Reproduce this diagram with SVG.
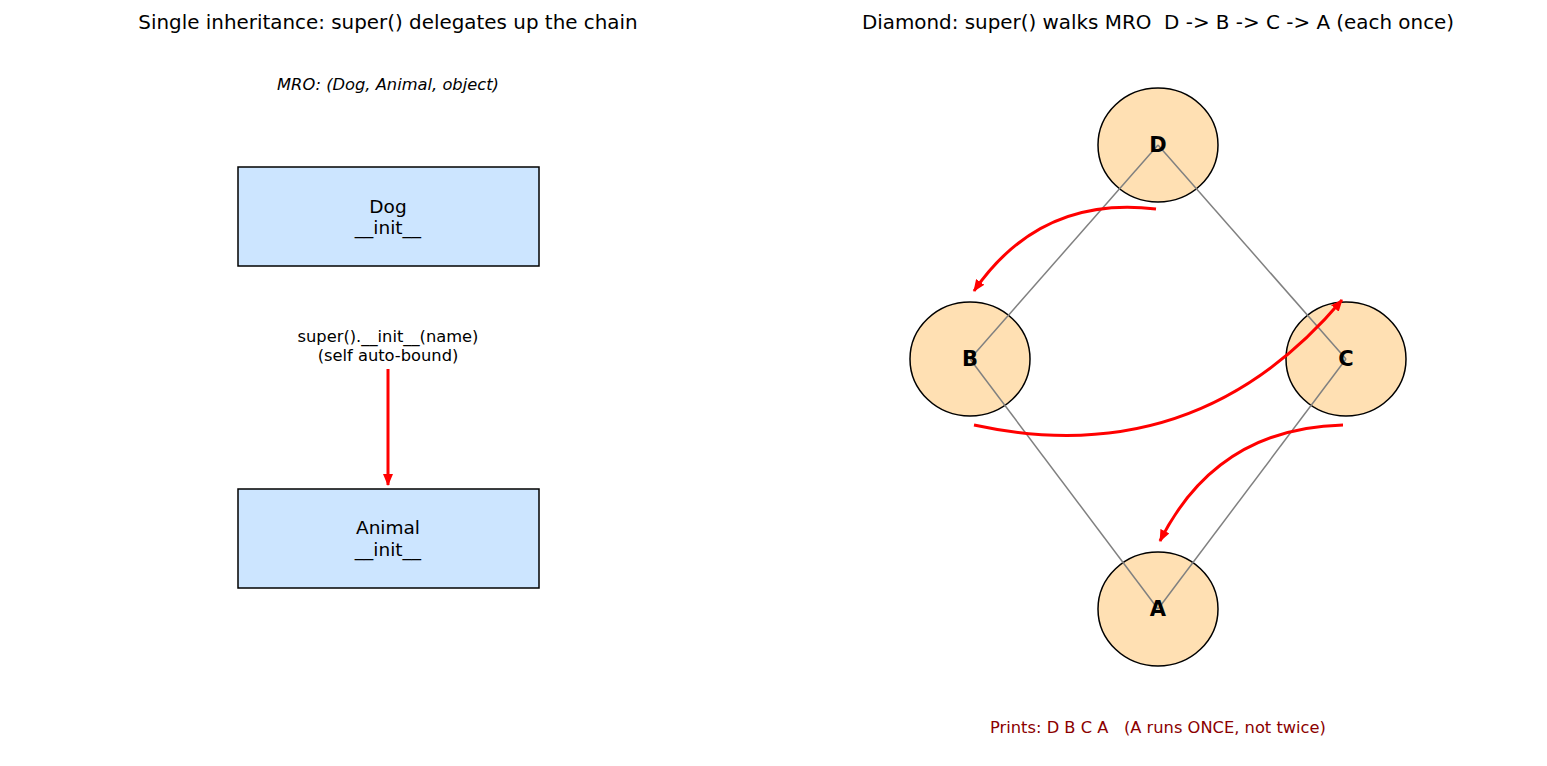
<svg xmlns="http://www.w3.org/2000/svg" width="1547" height="766" viewBox="0 0 1547 766">
<style>
text{font-family:"DejaVu Sans","Liberation Sans",sans-serif;fill:#000}
.title{font-size:19.9px;text-anchor:middle}
.mid{text-anchor:middle}
.small{font-size:16.3px}
.boxt{font-size:18.5px}
.box{fill:#cce5ff;stroke:#000;stroke-width:1.5}
.node{fill:#ffe0b3;stroke:#000;stroke-width:1.5}
.lbl{font-size:21px;font-weight:bold;text-anchor:middle}
.edge{stroke:#808080;stroke-width:1.5;fill:none}
.red{stroke:#ff0000;stroke-width:3;fill:none;marker-end:url(#ah)}
</style>
<defs>
<marker id="ah" markerWidth="12" markerHeight="10" refX="11" refY="5" orient="auto" markerUnits="userSpaceOnUse">
<path d="M0,0 L12,5 L0,10 Z" fill="#ff0000"/>
</marker>
</defs>
<rect width="1547" height="766" fill="#fff"/>
<text class="title" x="388" y="29">Single inheritance: super() delegates up the chain</text>
<text class="title" x="1158" y="29" xml:space="preserve">Diamond: super() walks MRO  D -&gt; B -&gt; C -&gt; A (each once)</text>
<text class="mid small" x="388" y="90" style="font-style:italic">MRO: (Dog, Animal, object)</text>

<g id="dog">
<rect class="box" x="238" y="167" width="301" height="99"/>
<text class="mid boxt" x="388" y="213">Dog</text>
<text class="mid boxt" x="388" y="234">__init__</text>
</g>
<g id="animal">
<rect class="box" x="238" y="489" width="301" height="99"/>
<text class="mid boxt" x="388" y="534">Animal</text>
<text class="mid boxt" x="388" y="556">__init__</text>
</g>
<g id="super-label">
<text class="mid small" x="388" y="342">super().__init__(name)</text>
<text class="mid small" x="388" y="361">(self auto-bound)</text>
</g>

<g id="nodeD"><ellipse class="node" cx="1158" cy="145" rx="60" ry="57"/></g>
<g id="nodeB"><ellipse class="node" cx="970" cy="359" rx="60" ry="57"/></g>
<g id="nodeC"><ellipse class="node" cx="1346" cy="359" rx="60" ry="57"/></g>
<g id="nodeA"><ellipse class="node" cx="1158" cy="609" rx="60" ry="57"/></g>

<g id="connectors">
<line x1="388" y1="369" x2="388" y2="485" style="stroke:#ff0000;stroke-width:3;marker-end:url(#ah)"/>
<line class="edge" x1="1158" y1="145" x2="970" y2="359"/>
<line class="edge" x1="1158" y1="145" x2="1346" y2="359"/>
<line class="edge" x1="970" y1="359" x2="1158" y2="609"/>
<line class="edge" x1="1346" y1="359" x2="1158" y2="609"/>
<path class="red" d="M1156,209 Q1040,195 974,291"/>
<path class="red" d="M974,425 Q1195.5,473 1342,300"/>
<path class="red" d="M1343,425 Q1216.7,428 1160,541"/>
</g>

<g id="labels">
<text class="lbl" x="1158" y="152">D</text>
<text class="lbl" x="970" y="366">B</text>
<text class="lbl" x="1346" y="366">C</text>
<text class="lbl" x="1158" y="616">A</text>
</g>
<text class="mid small" x="1158" y="733" style="fill:#8b0000" xml:space="preserve">Prints: D B C A   (A runs ONCE, not twice)</text>
</svg>
